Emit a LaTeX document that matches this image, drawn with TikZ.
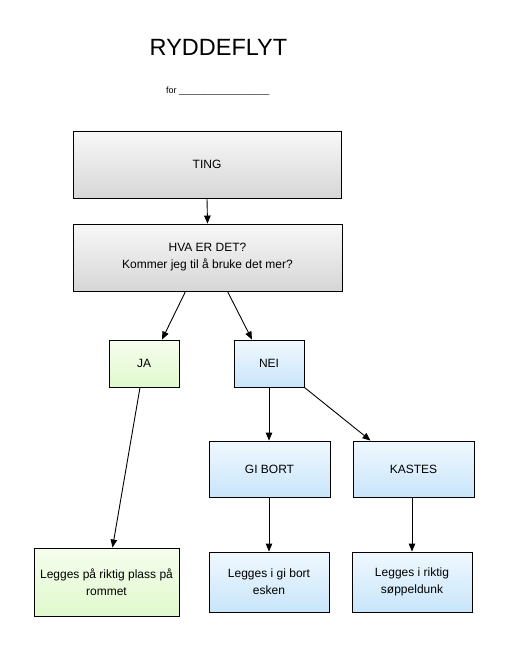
\documentclass[tikz,border=0pt]{standalone}
\usepackage{fontspec}
\setmainfont{Liberation Sans}
\usetikzlibrary{arrows.meta}
\definecolor{graytop}{RGB}{248,248,248}
\definecolor{grayend}{RGB}{214,214,214}
\definecolor{greentop}{RGB}{246,253,238}
\definecolor{greenend}{RGB}{224,249,204}
\definecolor{bluetop}{RGB}{240,248,254}
\definecolor{blueend}{RGB}{200,229,250}
\tikzset{
  box/.style={draw=black, line width=0.9pt, align=center, inner sep=2pt,
    font=\fontsize{12}{17}\selectfont},
  graybox/.style={box, top color=graytop, bottom color=grayend},
  greenbox/.style={box, top color=greentop, bottom color=greenend},
  bluebox/.style={box, top color=bluetop, bottom color=blueend},
  pil/.style={-{Triangle[length=8pt,width=6.5pt]}, line width=0.9pt}
}
\begin{document}
\begin{tikzpicture}[x=1pt,y=-1pt]
\useasboundingbox (0,0) rectangle (511,652);
% tittel
\node (tittel) [anchor=base, font=\fontsize{23.5}{26}\selectfont] at (218.5,56) {RYDDEFLYT};
\node (for) [anchor=base west, font=\fontsize{9}{11}\selectfont, inner sep=0pt] at (166,94) {for \_\_\_\_\_\_\_\_\_\_\_\_\_\_\_\_\_\_};
% bokser
\node (ting) [graybox, minimum width=268, minimum height=67] at (207,164.5) {TING};
\node (hva) [graybox, minimum width=269, minimum height=67] at (207.5,257.5) {HVA ER DET?\\Kommer jeg til å bruke det mer?};
\node (ja) [greenbox, minimum width=70, minimum height=47] at (144,363.5) {JA};
\node (nei) [bluebox, minimum width=70, minimum height=47] at (269,363.5) {NEI};
\node (gibort) [bluebox, minimum width=121, minimum height=56] at (269.5,469) {GI BORT};
\node (kastes) [bluebox, minimum width=121, minimum height=56] at (413.5,469) {KASTES};
\node (plass) [greenbox, minimum width=145, minimum height=68] at (106.5,582) {Legges på riktig plass på\\rommet};
\node (esken) [bluebox, minimum width=120, minimum height=60] at (269,582) {Legges i gi bort\\esken};
\node (dunk) [bluebox, minimum width=120, minimum height=60] at (412,582) {Legges i riktig\\søppeldunk};
% piler
\draw [pil] (ting.south) -- (hva.north);
\draw [pil] ([xshift=-22pt]hva.south) -- ([xshift=18pt]ja.north);
\draw [pil] ([xshift=20pt]hva.south) -- ([xshift=-17pt]nei.north);
\draw [pil] ([xshift=-4pt]ja.south) -- ([xshift=6pt]plass.north);
\draw [pil] (nei.south) -- (gibort.north -| nei.south);
\draw [pil] (nei.south east) -- ([xshift=-43pt]kastes.north);
\draw [pil] (gibort.south -| esken.north) -- (esken.north);
\draw [pil] (kastes.south -| dunk.north) -- (dunk.north);
\end{tikzpicture}
\end{document}
